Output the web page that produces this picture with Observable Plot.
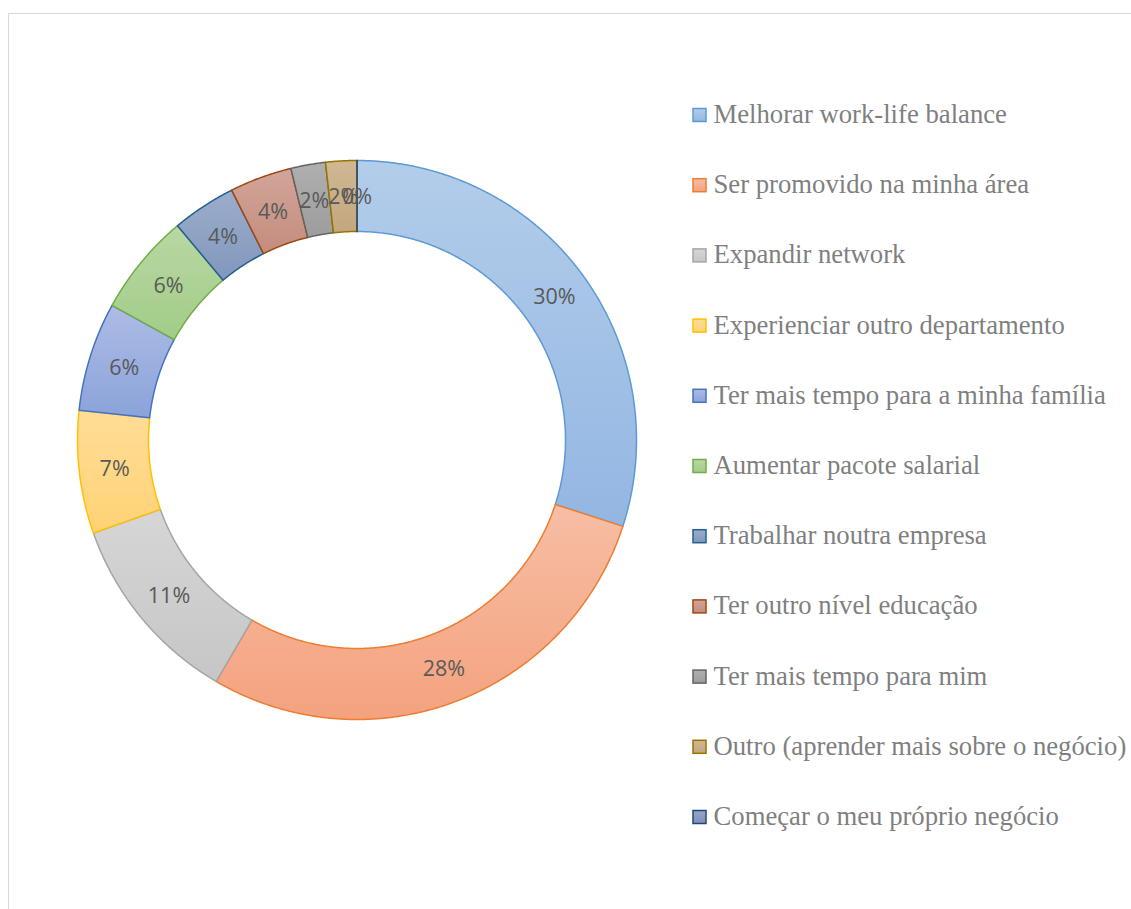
<!DOCTYPE html>
<html><head><meta charset="utf-8">
<script src="https://cdn.jsdelivr.net/npm/d3@7"></script>
<script src="https://cdn.jsdelivr.net/npm/@observablehq/plot@0.6"></script>
<style>
body{margin:0;background:#fff}
#wrap{position:relative;width:1131px;height:909px;overflow:hidden;background:#fff}
#border{position:absolute;left:8px;top:13px;width:1300px;height:1000px;border-top:1.5px solid #d9d9d9;border-left:1.5px solid #d9d9d9;box-sizing:border-box}
#chart{position:absolute;left:0;top:0}
</style></head>
<body><div id="wrap"><div id="border"></div><div id="chart"></div></div>
<script>
const categories = [
  "Melhorar work-life balance",
  "Ser promovido na minha área",
  "Expandir network",
  "Experienciar outro departamento",
  "Ter mais tempo para a minha família",
  "Aumentar pacote salarial",
  "Trabalhar noutra empresa",
  "Ter outro nível educação",
  "Ter mais tempo para mim",
  "Outro (aprender mais sobre o negócio)",
  "Começar o meu próprio negócio"
];
const values = [30, 28.4, 11.2, 7.1, 6.3, 5.9, 3.7, 3.6, 2.0, 1.8, 0];

const fillTop    = ["#b3cdea","#f7bea5","#d6d6d6","#ffdd98","#adbce5","#b8d8a3","#9cadca","#d2a59a","#afafaf","#d0b893","#98a6c8"];
const fillBottom = ["#93b6e2","#f4a27e","#c6c6c6","#ffd275","#8ba3da","#a2cc88","#8098bd","#c48c7d","#9d9d9d","#c2a77e","#7f90ba"];
const strokeColors = ["#5b9bd5","#ed7d31","#a5a5a5","#ffc000","#4472c4","#70ad47","#255e91","#9e480e","#636363","#997300","#264478"];

const W = 1131, H = 909;
const cx = 356.5, cy = 439.5, rOuter = 279.5, rInner = 208.5, rMid = (rOuter + rInner) / 2;
const legendX = 693, legendTop = 114, legendStep = 70.2;

const total = d3.sum(values);
const rows = categories.map((c, i) => ({category: c, value: values[i], i}));
const arcs = d3.pie().sort(null).value(d => d.value)(rows);

function ringPoints(a) {
  const pts = [];
  const n = Math.max(2, Math.ceil((a.endAngle - a.startAngle) / 0.005));
  for (let k = 0; k <= n; k++) {
    const t = a.startAngle + (a.endAngle - a.startAngle) * k / n;
    pts.push({x: cx + rOuter * Math.sin(t), y: cy - rOuter * Math.cos(t)});
  }
  for (let k = n; k >= 0; k--) {
    const t = a.startAngle + (a.endAngle - a.startAngle) * k / n;
    pts.push({x: cx + rInner * Math.sin(t), y: cy - rInner * Math.cos(t)});
  }
  return pts;
}

const sliceMarks = arcs.map((a, i) =>
  Plot.line(ringPoints(a), {
    x: "x", y: "y", curve: "linear-closed",
    fill: `url(#grad${i})`, stroke: strokeColors[i], strokeWidth: 1.5, strokeLinejoin: "round"
  })
);

const labelData = arcs.map(a => {
  const m = (a.startAngle + a.endAngle) / 2;
  return {x: cx + rMid * Math.sin(m), y: cy - rMid * Math.cos(m) + 1, text: Math.round(a.data.value / total * 100) + "%"};
});

const chart = Plot.plot({
  width: W, height: H,
  margin: 0,
  x: {domain: [0, W], range: [0, W], axis: null},
  y: {domain: [0, H], range: [0, H], axis: null},
  color: {type: "identity"},
  style: {background: "transparent"},
  marks: [
    ...sliceMarks,
    Plot.text(labelData, {x: "x", y: "y", text: "text", fill: "#595959", fontSize: 21.5, fontFamily: "Open Sans"}),
    Plot.rect(rows, {
      x1: legendX, x2: legendX + 13,
      y1: d => legendTop + d.i * legendStep - 6.5 + 1,
      y2: d => legendTop + d.i * legendStep + 6.5 + 1,
      fill: d => `url(#grad${d.i})`, stroke: d => strokeColors[d.i], strokeWidth: 1.5
    }),
    Plot.text(rows, {
      x: legendX + 20, y: d => legendTop + d.i * legendStep, text: "category",
      textAnchor: "start", fill: "#7f7f7f", fontSize: 26.7, fontFamily: "Liberation Serif, Times New Roman, serif"
    })
  ]
});

const defs = d3.select(chart).insert("defs", ":first-child");
categories.forEach((c, i) => {
  const g = defs.append("linearGradient").attr("id", `grad${i}`).attr("x1", 0).attr("y1", 0).attr("x2", 0).attr("y2", 1);
  g.append("stop").attr("offset", "0%").attr("stop-color", fillTop[i]);
  g.append("stop").attr("offset", "100%").attr("stop-color", fillBottom[i]);
});

document.getElementById("chart").appendChild(chart);
</script>
</body></html>
